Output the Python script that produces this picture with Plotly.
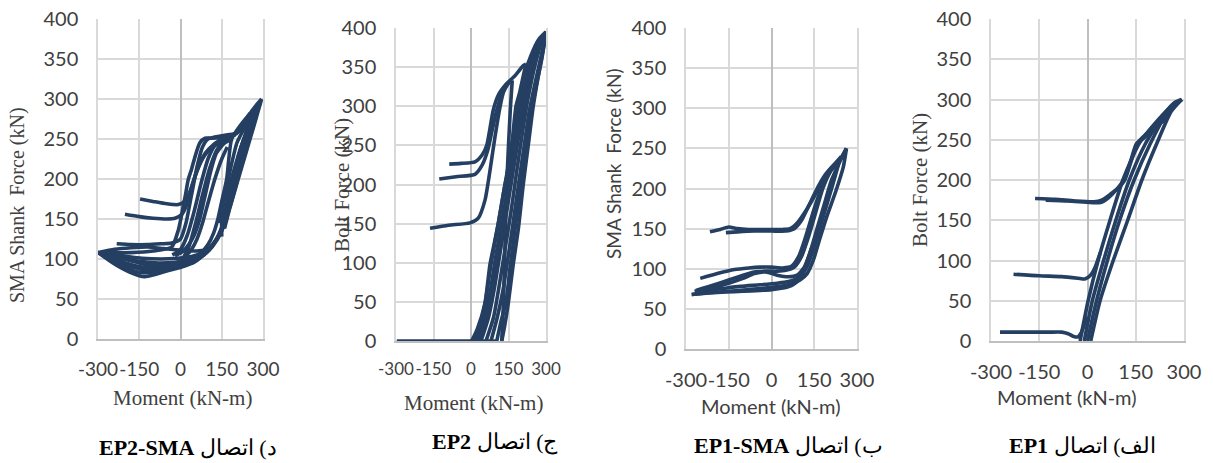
import plotly.graph_objects as go

# ---------------- tick values ----------------
x_ticks = [-300, -150, 0, 150, 300]
y_ticks = [0, 50, 100, 150, 200, 250, 300, 350, 400]

# ---------------- panel 1 : EP2-SMA (SMA shank force) ----------------
ep2sma_a_m = [-300, -250, -200, -150, -129, -100, -50, 4, 50, 89, 120, 150, 180, 210, 240, 270, 295]
ep2sma_a_f = [108, 96, 86, 79, 78, 80, 85, 90, 96, 107, 120, 135, 165, 200, 235, 270, 300]
ep2sma_b_m = [295, 270, 253, 220, 186, 168, 150, 136, 120, 100, 70, 30, -20, -80, -150, -220, -300]
ep2sma_b_f = [300, 290, 282, 268, 250, 200, 172, 150, 132, 118, 106, 99, 96, 95, 97, 102, 108]
ep2sma_c_m = [-290, -240, -190, -140, -90, -40, 10, 60, 100, 135, 160, 190, 220, 250, 275]
ep2sma_c_f = [106, 98, 92, 87, 86, 88, 93, 99, 110, 125, 145, 185, 225, 258, 284]
ep2sma_d_m = [275, 250, 225, 200, 180, 160, 140, 115, 80, 40, -10, -70, -140, -210, -280]
ep2sma_d_f = [284, 262, 235, 200, 170, 148, 130, 117, 108, 103, 101, 100, 101, 104, 107]
ep2sma_e_m = [-260, -200, -140, -90, -40, 0, 40, 80, 115, 150, 175, 205, 235, 262]
ep2sma_e_f = [104, 95, 90, 89, 92, 96, 100, 104, 115, 140, 180, 220, 255, 280]
ep2sma_f_m = [-232, -180, -120, -70, -32, 0, 20, 40, 60, 80, 100, 150, 200, 230, 253]
ep2sma_f_f = [119, 118, 118, 119, 120, 125, 145, 180, 215, 240, 250, 254, 257, 265, 282]
ep2sma_g_m = [253, 220, 190, 150, 110, 89, 70, 53, 40, 28, 18, 10, 0, -8, -32, -100, -180, -260]
ep2sma_g_f = [282, 262, 254, 252, 251, 251, 245, 228, 212, 199, 180, 166, 148, 136, 115, 110, 108, 108]
ep2sma_h_m = [-147, -100, -50, -8, 15, 35, 55, 75, 100, 125, 150, 180]
ep2sma_h_f = [175, 172, 169, 168, 172, 185, 205, 222, 235, 242, 246, 250]
ep2sma_i_m = [-202, -150, -100, -50, -20, 5, 25, 45, 65, 90, 120, 150]
ep2sma_i_f = [156, 153, 151, 150, 151, 156, 170, 195, 215, 232, 243, 250]
ep2sma_j_m = [-30, 0, 25, 50, 75, 100, 125, 150, 175, 200]
ep2sma_j_f = [105, 112, 130, 160, 195, 225, 242, 250, 253, 255]
ep2sma_k_m = [190, 160, 130, 110, 90, 70, 50, 30, 10, -20]
ep2sma_k_f = [250, 245, 232, 210, 180, 150, 130, 118, 110, 104]
ep2sma_l_m = [170, 150, 125, 100, 80, 60, 40, 20, 0]
ep2sma_l_f = [240, 225, 200, 170, 145, 125, 112, 104, 98]
ep2sma_n_m = [0, 30, 55, 80, 105, 130, 155, 180]
ep2sma_n_f = [95, 115, 145, 180, 212, 235, 248, 255]
ep2sma_o_m = [-300, -240, -180, -120, -60, 0, 60, 110]
ep2sma_o_f = [108, 112, 114, 115, 113, 111, 110, 112]
ep2sma_p_m = [-300, -230, -160, -110, -60, -10, 40, 90]
ep2sma_p_f = [108, 102, 96, 92, 92, 95, 100, 106]
ep2sma_q_m = [150, 170, 195, 220, 245, 270, 290]
ep2sma_q_f = [140, 170, 205, 240, 262, 280, 295]
ep2sma_r_m = [140, 158, 180, 205, 230, 258, 285]
ep2sma_r_f = [145, 175, 210, 245, 262, 278, 292]
ep2sma_s_m = [150, 150, 160, 185, 215, 245, 280]
ep2sma_s_f = [128, 150, 175, 200, 235, 262, 290]
ep2sma_t_m = [145, 165, 190, 215, 240, 265, 290]
ep2sma_t_f = [132, 158, 195, 228, 255, 275, 296]
ep2sma_u_m = [160, 180, 200, 225, 250, 275]
ep2sma_u_f = [138, 165, 190, 222, 250, 278]
ep2sma_v_m = [-300, -250, -200, -150, -100, -50, 0, 50]
ep2sma_v_f = [108, 100, 93, 88, 85, 88, 92, 98]
ep2sma_w_m = [-280, -220, -160, -100, -40, 20, 70]
ep2sma_w_f = [104, 93, 84, 83, 88, 95, 102]

# ---------------- panel 2 : EP2 (bolt force) ----------------
ep2_flat_m = [-297, -150, 0, 60, 103]
ep2_flat_f = [0, 0, 0, 0, 0]
ep2_t1_m = [-87, -40, 16, 45, 63, 75, 89, 109, 143, 176, 209, 220]
ep2_t1_f = [226, 227, 229, 238, 250, 270, 295, 314, 329, 339, 352, 354]
ep2_t1d_m = [220, 210, 195, 180, 163, 150, 136, 109, 90, 76, 56, 30, 3]
ep2_t1d_f = [354, 340, 318, 300, 250, 220, 200, 150, 120, 98, 48, 15, 0]
ep2_t2_m = [-127, -60, 16, 45, 68, 85, 103, 129, 156, 165]
ep2_t2_f = [207, 210, 213, 225, 245, 270, 295, 321, 331, 333]
ep2_t2d_m = [165, 158, 150, 143, 136, 130, 123]
ep2_t2d_f = [333, 300, 250, 200, 120, 50, 0]
ep2_t3_m = [-164, -90, -4, 29, 56, 76, 96, 116, 130, 150]
ep2_t3_f = [144, 148, 151, 157, 180, 218, 261, 299, 318, 330]
ep2_b1_m = [20, 50, 75, 95, 122, 150, 175, 200, 230, 265, 300]
ep2_b1_f = [0, 30, 60, 100, 150, 200, 250, 300, 345, 375, 395]
ep2_b2_m = [40, 70, 95, 115, 140, 165, 190, 215, 245, 275, 300]
ep2_b2_f = [0, 30, 70, 110, 160, 210, 260, 305, 350, 380, 395]
ep2_b3_m = [60, 90, 115, 135, 160, 182, 205, 228, 258, 285, 300]
ep2_b3_f = [0, 30, 75, 115, 165, 215, 265, 310, 355, 385, 395]
ep2_b4_m = [103, 120, 140, 155, 175, 196, 215, 235, 260, 283, 300]
ep2_b4_f = [0, 25, 50, 90, 140, 190, 235, 280, 325, 360, 395]
ep2_b5_m = [123, 135, 149, 169, 190, 209, 229, 249, 270, 290, 300]
ep2_b5_f = [0, 20, 48, 98, 145, 200, 250, 300, 340, 375, 395]
ep2_b6_m = [3, 25, 56, 80, 109, 136, 163, 189, 213, 240, 270, 300]
ep2_b6_f = [0, 15, 48, 98, 150, 200, 250, 300, 340, 365, 385, 395]
ep2_b7_m = [30, 60, 85, 105, 130, 158, 183, 208, 238, 270, 300]
ep2_b7_f = [0, 30, 65, 105, 155, 205, 255, 302, 348, 378, 395]
ep2_b8_m = [80, 105, 128, 145, 168, 190, 212, 232, 262, 288, 300]
ep2_b8_f = [0, 30, 65, 100, 150, 200, 248, 292, 338, 375, 395]

# ---------------- panel 3 : EP1-SMA (SMA shank force) ----------------
ep1sma_u1_m = [-216, -180, -150, -120, -80, -40, 0, 40, 65, 90, 120, 150, 180, 210, 240, 263]
ep1sma_u1_f = [146, 149, 152, 150, 149, 149, 149, 149, 150, 157, 172, 190, 210, 226, 236, 250]
ep1sma_u2_m = [-160, -120, -60, 0, 50, 80, 105, 130, 160, 190, 220, 245]
ep1sma_u2_f = [145, 146, 147, 147, 147, 150, 160, 178, 200, 218, 230, 240]
ep1sma_r1_m = [263, 252, 225, 194, 170, 147, 125, 100, 70, 30, -20, -80, -150, -220, -280]
ep1sma_r1_f = [250, 227, 196, 165, 138, 111, 94, 86, 81, 78, 76, 74, 72, 70, 68]
ep1sma_r2_m = [240, 215, 190, 165, 145, 125, 105, 85, 60, 20, -40, -110, -180, -250]
ep1sma_r2_f = [236, 205, 175, 145, 122, 103, 92, 87, 84, 82, 80, 78, 75, 72]
ep1sma_l1_m = [-280, -220, -160, -100, -40, 0, 40, 70, 90, 110, 135, 160, 185, 210, 235, 263]
ep1sma_l1_f = [68, 70, 71, 72, 73, 74, 76, 79, 84, 95, 120, 150, 180, 210, 230, 250]
ep1sma_l2_m = [-265, -200, -150, -100, -60, -20, 20, 50, 80, 105, 130, 155, 180, 205, 228]
ep1sma_l2_f = [73, 80, 86, 92, 96, 97, 97, 98, 102, 115, 140, 170, 200, 220, 230]
ep1sma_l3_m = [-250, -190, -130, -80, -40, 0, 40, 70, 95, 120, 150, 180, 210]
ep1sma_l3_f = [88, 94, 99, 101, 102, 102, 101, 103, 115, 140, 175, 205, 225]
ep1sma_l4_m = [-270, -210, -150, -100, -60, -20, 20, 60, 90, 115, 140]
ep1sma_l4_f = [72, 76, 82, 88, 94, 96, 92, 90, 92, 102, 125]

# ---------------- panel 4 : EP1 (bolt force) ----------------
ep1_a_m = [-23, 2, 33, 70, 110, 160, 220, 265, 293]
ep1_a_f = [0, 50, 100, 150, 200, 245, 275, 293, 300]
ep1_b_m = [-10, 15, 50, 88, 130, 180, 235, 270, 293]
ep1_b_f = [0, 50, 100, 150, 200, 245, 280, 296, 300]
ep1_c_m = [0, 25, 62, 100, 145, 195, 245, 293]
ep1_c_f = [0, 45, 100, 150, 200, 245, 282, 300]
ep1_d_m = [10, 39, 80, 125, 169, 215, 260, 293]
ep1_d_f = [0, 50, 100, 150, 200, 245, 285, 300]
ep1_u1_m = [-163, -100, -40, 20, 44, 70, 95, 116, 137, 157, 185, 219, 232, 250]
ep1_u1_f = [177, 176, 174, 173, 175, 182, 190, 200, 225, 247, 258, 270, 272, 282]
ep1_u2_m = [-130, -60, 10, 40, 65, 90, 112, 133, 152, 175, 205, 225]
ep1_u2_f = [175, 174, 172, 172, 178, 188, 200, 222, 245, 252, 263, 270]
ep1_mid_m = [-230, -150, -80, -30, -8, 10, 23, 40]
ep1_mid_f = [83, 81, 80, 78, 77, 82, 91, 110]
ep1_low_m = [-272, -200, -120, -80, -60, -45, -30, -20, -10, 0]
ep1_low_f = [11, 11, 11, 11, 9, 6, 5, 10, 20, 30]

LINE = "#243F62"
GRID = "#d9d9d9"
ZERO = "#bfbfbf"
TXT = "#404040"
SANS = "Lato, 'Open Sans', sans-serif"
SERIF = "'Liberation Serif', 'DejaVu Serif', serif"

panels = [
    [(ep2sma_a_m, ep2sma_a_f), (ep2sma_b_m, ep2sma_b_f), (ep2sma_c_m, ep2sma_c_f),
     (ep2sma_d_m, ep2sma_d_f), (ep2sma_e_m, ep2sma_e_f), (ep2sma_f_m, ep2sma_f_f),
     (ep2sma_g_m, ep2sma_g_f), (ep2sma_h_m, ep2sma_h_f), (ep2sma_i_m, ep2sma_i_f),
     (ep2sma_j_m, ep2sma_j_f), (ep2sma_k_m, ep2sma_k_f), (ep2sma_l_m, ep2sma_l_f),
     (ep2sma_n_m, ep2sma_n_f), (ep2sma_o_m, ep2sma_o_f), (ep2sma_p_m, ep2sma_p_f),
     (ep2sma_q_m, ep2sma_q_f), (ep2sma_r_m, ep2sma_r_f), (ep2sma_s_m, ep2sma_s_f),
     (ep2sma_t_m, ep2sma_t_f), (ep2sma_u_m, ep2sma_u_f), (ep2sma_v_m, ep2sma_v_f),
     (ep2sma_w_m, ep2sma_w_f)],
    [(ep2_flat_m, ep2_flat_f), (ep2_t1_m, ep2_t1_f), (ep2_t1d_m, ep2_t1d_f),
     (ep2_t2_m, ep2_t2_f), (ep2_t2d_m, ep2_t2d_f), (ep2_t3_m, ep2_t3_f),
     (ep2_b1_m, ep2_b1_f), (ep2_b2_m, ep2_b2_f), (ep2_b3_m, ep2_b3_f),
     (ep2_b4_m, ep2_b4_f), (ep2_b5_m, ep2_b5_f), (ep2_b6_m, ep2_b6_f),
     (ep2_b7_m, ep2_b7_f), (ep2_b8_m, ep2_b8_f)],
    [(ep1sma_u1_m, ep1sma_u1_f), (ep1sma_u2_m, ep1sma_u2_f), (ep1sma_r1_m, ep1sma_r1_f),
     (ep1sma_r2_m, ep1sma_r2_f), (ep1sma_l1_m, ep1sma_l1_f), (ep1sma_l2_m, ep1sma_l2_f),
     (ep1sma_l3_m, ep1sma_l3_f), (ep1sma_l4_m, ep1sma_l4_f)],
    [(ep1_a_m, ep1_a_f), (ep1_b_m, ep1_b_f), (ep1_c_m, ep1_c_f), (ep1_d_m, ep1_d_f),
     (ep1_u1_m, ep1_u1_f), (ep1_u2_m, ep1_u2_f), (ep1_mid_m, ep1_mid_f),
     (ep1_low_m, ep1_low_f)],
]

W, H = 1213, 463
# plot-area pixel boxes (left, right, top, bottom)
boxes = [(98, 263, 19, 339), (396, 546, 28, 341), (686, 857, 28, 349), (991, 1184, 19, 341)]
x_tick_sizes = [19, 17, 20, 20]

fig = go.Figure()
layout = dict(width=W, height=H, margin=dict(l=0, r=0, t=0, b=0, pad=0),
              paper_bgcolor="white", plot_bgcolor="white", showlegend=False)

for i, (curves, box) in enumerate(zip(panels, boxes)):
    n = "" if i == 0 else str(i + 1)
    for m, f in curves:
        fig.add_trace(go.Scatter(x=m, y=f, mode="lines", xaxis="x" + n, yaxis="y" + n,
                                 line=dict(color=LINE, width=3.6, shape="spline", smoothing=0.6),
                                 hoverinfo="skip"))
    l, r, t, b = box
    layout["xaxis" + n] = dict(
        domain=[l / W, r / W], anchor="y" + n, range=[-300, 300], tickvals=x_ticks,
        ticktext=[str(v) for v in x_ticks], tickangle=0, automargin=False,
        showgrid=True, gridcolor=GRID, gridwidth=1.5,
        zeroline=True, zerolinecolor=ZERO, zerolinewidth=1.5,
        showline=True, linecolor=ZERO, linewidth=1.5, mirror=False,
        ticks="outside", ticklen=12, tickcolor="rgba(0,0,0,0)",
        tickfont=dict(family=SANS, size=x_tick_sizes[i], color=TXT), fixedrange=True)
    layout["yaxis" + n] = dict(
        domain=[1 - b / H, 1 - t / H], anchor="x" + n, range=[0, 400], tickvals=y_ticks,
        ticktext=[str(v) for v in y_ticks], automargin=False,
        showgrid=True, gridcolor=GRID, gridwidth=1.5,
        zeroline=False, showline=True, linecolor=GRID, linewidth=1.5, mirror=True,
        ticks="outside", ticklen=14, tickcolor="rgba(0,0,0,0)",
        tickfont=dict(family=SANS, size=20, color=TXT), fixedrange=True)

fig.update_layout(**layout)

def px(xp, yp):
    return xp / W, 1 - yp / H

annots = []
# y-axis titles
for text, (xp, yp), fam, size in [
        ("SMA Shank\u00a0\u00a0Force (kN)", (17, 205), SERIF, 20),
        ("Bolt Force (kN)", (342, 185), SERIF, 21),
        ("SMA Shank\u00a0\u00a0Force (kN)", (613, 164), SANS, 19),
        ("Bolt Force (kN)", (920, 180), SERIF, 21)]:
    x, y = px(xp, yp)
    annots.append(dict(text=text, x=x, y=y, xref="paper", yref="paper", showarrow=False,
                       textangle=-90, xanchor="center", yanchor="middle",
                       font=dict(family=fam, size=size, color=TXT)))
# x-axis titles
for (xp, yp), fam, size in [((182, 398), SERIF, 21), ((473, 403), SERIF, 21),
                             ((771, 406), SANS, 20), ((1067, 397), SANS, 20)]:
    x, y = px(xp, yp)
    annots.append(dict(text="Moment (kN-m)", x=x, y=y, xref="paper", yref="paper",
                       showarrow=False, xanchor="center", yanchor="middle",
                       font=dict(family=fam, size=size, color=TXT)))
# captions
for code, label, (xp, yp) in [("EP2-SMA", "د) اتصال", (188, 447)),
                              ("EP2", "ج) اتصال", (495, 442)),
                              ("EP1-SMA", "ب) اتصال", (789, 445)),
                              ("EP1", "الف) اتصال", (1082, 445))]:
    x, y = px(xp, yp)
    annots.append(dict(text="<b>" + code + "</b> " + label, x=x, y=y, xref="paper",
                       yref="paper", showarrow=False, xanchor="center", yanchor="middle",
                       font=dict(family=SERIF, size=22, color="black")))
fig.update_layout(annotations=annots)

fig.write_html("out.html", config={"displayModeBar": False},
               post_script="document.body.style.margin='0px';document.body.style.overflow='hidden';")
